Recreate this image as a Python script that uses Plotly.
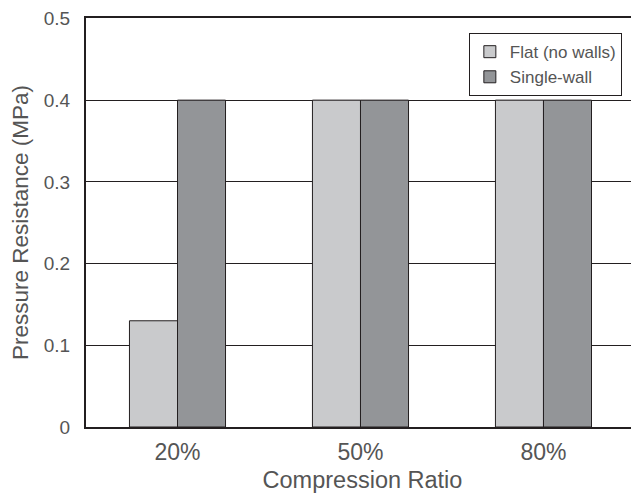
import plotly.graph_objects as go

categories = ["20%", "50%", "80%"]
flat_values = [0.13, 0.40, 0.40]
single_values = [0.40, 0.40, 0.40]
series_names = ["Flat (no walls)", "Single-wall"]
y_ticks = [0, 0.1, 0.2, 0.3, 0.4, 0.5]
y_tick_labels = ["0", "0.1", "0.2", "0.3", "0.4", "0.5"]

fig = go.Figure()
fig.add_trace(go.Bar(x=categories, y=flat_values, name=series_names[0],
                     marker=dict(color="#c9cacc", line=dict(color="#231f20", width=1))))
fig.add_trace(go.Bar(x=categories, y=single_values, name=series_names[1],
                     marker=dict(color="#939598", line=dict(color="#231f20", width=1))))

font_family = "'Liberation Sans', Arial, Helvetica, sans-serif"
txt = "#555555"
# page body has an 8px default margin, so the figure is shifted by 8px
fig.update_layout(
    width=631, height=485,
    margin=dict(l=78, r=0, t=10, b=66),
    paper_bgcolor="white", plot_bgcolor="white",
    barmode="group", bargap=0.475, bargroupgap=0,
    font=dict(family=font_family, color=txt, size=18),
    legend=dict(x=0.969, y=0.963, xanchor="right", yanchor="top",
                bordercolor="#231f20", borderwidth=1, bgcolor="white",
                font=dict(size=17, color=txt),
                itemwidth=30, tracegroupgap=0),
    xaxis=dict(range=[-0.5, 2.522], showline=True, linecolor="#231f20", linewidth=2,
               mirror=True, ticks="", showgrid=False, ticklabelstandoff=3,
               title=dict(text="Compression Ratio", font=dict(size=23.5, color=txt), standoff=9),
               tickfont=dict(size=23, color=txt)),
    yaxis=dict(range=[0, 0.5005], tickvals=y_ticks, ticktext=y_tick_labels,
               showline=True, linecolor="#231f20", linewidth=2, mirror=False,
               showgrid=True, gridcolor="#231f20", gridwidth=1, zeroline=False,
               ticks="", ticklabelstandoff=10,
               title=dict(text="Pressure Resistance (MPa)", font=dict(size=22.5, color=txt), standoff=14),
               tickfont=dict(size=19, color=txt)),
)
fig.write_html("out.html")
